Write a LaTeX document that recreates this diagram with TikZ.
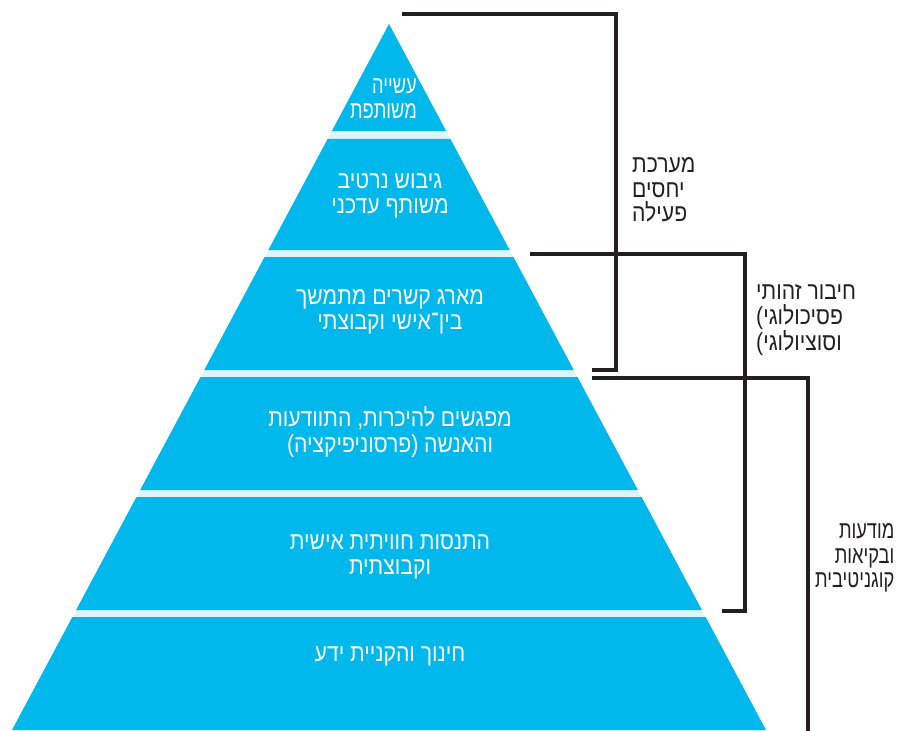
\documentclass[tikz,border=0pt]{standalone}
\usepackage{fontspec}
\newfontfamily\hebfont[Script=Hebrew, FakeStretch=0.86]{Liberation Sans}
\newfontfamily\hebnarrow[Script=Hebrew, FakeStretch=0.74]{Liberation Sans}
\newfontfamily\latfont[FakeStretch=0.86]{Liberation Sans}
\TeXXeTstate=1
\newcommand{\heb}[1]{\beginR#1\endR}
\definecolor{pyrblue}{RGB}{0,184,236}
\definecolor{gapblue}{RGB}{220,245,252}
\definecolor{inkgray}{RGB}{35,31,32}
\tikzset{
  pyrlayer/.style={fill=pyrblue},
  laytext/.style={text=white, font=\hebfont\fontsize{21}{21.5}\selectfont, align=center, inner sep=0pt},
  sidetext/.style={text=inkgray, font=\hebfont\fontsize{21}{21}\selectfont, inner sep=0pt},
  bracket/.style={draw=inkgray, line width=3pt},
}
\begin{document}
\begin{tikzpicture}[x=0.03cm, y=-0.03cm]
  \useasboundingbox (0,0) rectangle (910,731);
  % Pyramid
  \fill[gapblue] (389,24) -- (13,730) -- (765,730) -- cycle;
  \foreach \top/\bot in {24/131, 139/250, 257/370, 377/490, 497/610, 617/730} {
    \pgfmathsetmacro{\wt}{0.534*(\top-24)}
    \pgfmathsetmacro{\wb}{0.534*(\bot-24)}
    \fill[pyrlayer] ({389-\wt},\top) -- ({389+\wt},\top) -- ({389+\wb},\bot) -- ({389-\wb},\bot) -- cycle;
  }

  % Layer texts
  \node[laytext, anchor=east, align=right, font=\hebnarrow\fontsize{21}{21.5}\selectfont] (t1) at (417,99) {\heb{עשייה}\\\heb{משותפת}};
  \node[laytext] (t2) at (390,196) {\heb{גיבוש נרטיב}\\\heb{משותף עדכני}};
  \node[laytext] (t3) at (390,312) {\heb{מארג קשרים מתמשך}\\\heb{בין־אישי וקבוצתי}};
  \node[laytext] (t4) at (390,432) {\heb{מפגשים להיכרות, התוודעות}\\\heb{והאנשה (פרסוניפיקציה)}};
  \node[laytext] (t5) at (390,557) {\heb{התנסות חוויתית אישית}\\\heb{וקבוצתית}};
  \node[laytext] (t6) at (390,656) {\heb{חינוך והקניית ידע}};

  % Brackets
  \draw[bracket] (402,14) -- (616,14) -- (616,370) -- (592,370);
  \draw[bracket] (530,254) -- (745,254) -- (745,611) -- (722,611);
  \draw[bracket] (592,378) -- (808,378) -- (808,731);

  % Bracket labels
  \node[sidetext, anchor=west, align=left] (l1) at (632,190) {\heb{מערכת}\\\heb{יחסים}\\\heb{פעילה}};
  \node[sidetext, anchor=west, align=left] (l2) at (756,320) {\heb{חיבור זהותי}\\\mbox{\latfont(}פסיכולוגי\\\mbox{\latfont(}וסוציולוגי};
  \node[sidetext, anchor=west, align=right, font=\hebnarrow\fontsize{21}{21}\selectfont] (l3) at (815,558) {\heb{מודעות}\\\heb{ובקיאות}\\\heb{קוגניטיבית}};
\end{tikzpicture}
\end{document}
